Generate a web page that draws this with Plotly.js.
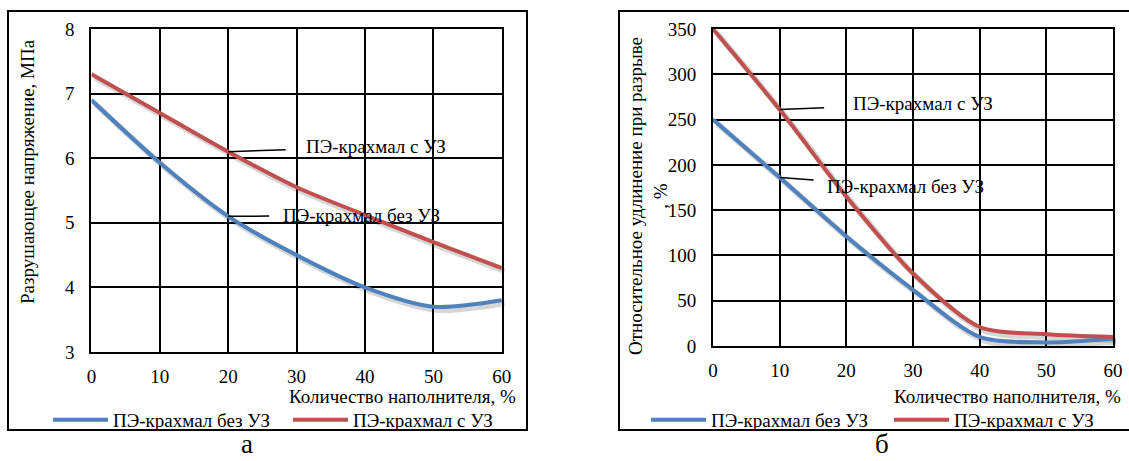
<!DOCTYPE html>
<html>
<head>
<meta charset="utf-8">
<script src="https://cdn.plot.ly/plotly-3.0.1.min.js"></script>
<style>html,body{margin:0;padding:0;background:#fff;overflow:hidden;}#chart{width:1129px;height:461px;}</style>
</head>
<body>
<div id="chart"></div>
<script>
// ---- data ----
const fillerPct = [0, 10, 20, 30, 40, 50, 60];
const stressNoUS = [6.9, 5.93, 5.1, 4.5, 4.0, 3.7, 3.8];
const stressUS = [7.3, 6.7, 6.1, 5.55, 5.12, 4.7, 4.3];
const elongNoUS = [250, 186, 121, 62, 10, 4, 8];
const elongUS = [350, 261, 165, 80, 21, 13, 10];
const seriesNames = ["ПЭ-крахмал без УЗ", "ПЭ-крахмал с УЗ"];
const xTitle = "Количество наполнителя, %";
const yTitleA = "Разрушающее напряжение, МПа";
const yTitleB = "Относительное удлинение при разрыве<br>, %";
const panelLabels = ["а", "б"];

const W = 1129, H = 461;
const px = v => v / W;
const py = v => 1 - v / H;
const FONT = "Liberation Serif, serif";
const FS = 19;
const BLUE = "#4F81BD", RED = "#C0504D", SHADOW = "rgba(0,0,0,0.16)";

// plot-area geometry (pixels)
const A = {l: 91.4, r: 501.8, t: 29, b: 352};
const B = {l: 713, r: 1113, t: 29, b: 346};
const SH = 3; // shadow offset

function tr(x, y, name, xa, ya, leg, color) {
  return {x: x, y: y, name: name, xaxis: xa, yaxis: ya, legend: leg, mode: "lines",
          line: {color: color, width: 4, shape: "spline", smoothing: 0.8}};
}
function shadow(x, y, xa, ya) {
  return {x: x, y: y, xaxis: xa, yaxis: ya, mode: "lines", showlegend: false, hoverinfo: "skip",
          line: {color: SHADOW, width: 6, shape: "spline", smoothing: 0.8}};
}
const traces = [
  shadow(fillerPct, stressNoUS, "x3", "y3"),
  shadow(fillerPct, stressUS, "x3", "y3"),
  shadow(fillerPct, elongNoUS, "x4", "y4"),
  shadow(fillerPct, elongUS, "x4", "y4"),
  tr(fillerPct, stressNoUS, seriesNames[0], "x5", "y5", "legend", BLUE),
  tr(fillerPct, stressUS, seriesNames[1], "x5", "y5", "legend2", RED),
  tr(fillerPct, elongNoUS, seriesNames[0], "x6", "y6", "legend3", BLUE),
  tr(fillerPct, elongUS, seriesNames[1], "x6", "y6", "legend4", RED)
];

const axBase = {
  showgrid: true, gridcolor: "#000", gridwidth: 2,
  showline: true, linecolor: "#000", linewidth: 2, mirror: true,
  zeroline: false, ticks: "", tickfont: {family: FONT, size: FS, color: "#000"}
};
const hid = {visible: false, showgrid: false, zeroline: false, fixedrange: true};

function leg(xpx) {
  return {orientation: "h", bgcolor: "rgba(0,0,0,0)", font: {family: FONT, size: FS, color: "#000"},
          xanchor: "left", yanchor: "middle", x: px(xpx), y: py(420), itemwidth: 55};
}

function callout(xa, ya, x, y, ax, ay, text, pad) {
  return {xref: xa, yref: ya, x: x, y: y, ax: ax, ay: ay, text: text,
          showarrow: true, arrowhead: 0, arrowwidth: 1.5, arrowcolor: "#000", borderpad: pad,
          font: {family: FONT, size: FS, color: "#000"}};
}

const layout = {
  width: W, height: H, autosize: false,
  margin: {l: 0, r: 0, t: 0, b: 0, autoexpand: false},
  paper_bgcolor: "#fff", plot_bgcolor: "rgba(0,0,0,0)",
  font: {family: FONT, size: FS, color: "#000"},
  showlegend: true,
  // visible axes with grid
  xaxis: Object.assign({}, axBase, {domain: [px(A.l), px(A.r)], range: [0, 60], dtick: 10, anchor: "y", ticklabelstandoff: 6}),
  yaxis: Object.assign({}, axBase, {domain: [py(A.b), py(A.t)], range: [3, 8], dtick: 1, anchor: "x", ticklabelstandoff: 11}),
  xaxis2: Object.assign({}, axBase, {domain: [px(B.l), px(B.r)], range: [0, 60], dtick: 10, anchor: "y2", ticklabelstandoff: 6}),
  yaxis2: Object.assign({}, axBase, {domain: [py(B.b), py(B.t)], range: [0, 350], dtick: 50, anchor: "x2", ticklabelstandoff: 11}),
  // shadow axes (offset a few pixels right/down)
  xaxis3: Object.assign({}, hid, {domain: [px(A.l + SH), px(A.r + SH)], range: [0, 60], anchor: "y3"}),
  yaxis3: Object.assign({}, hid, {domain: [py(A.b + SH), py(A.t + SH)], range: [3, 8], anchor: "x3"}),
  xaxis4: Object.assign({}, hid, {domain: [px(B.l + SH), px(B.r + SH)], range: [0, 60], anchor: "y4"}),
  yaxis4: Object.assign({}, hid, {domain: [py(B.b + SH), py(B.t + SH)], range: [0, 350], anchor: "x4"}),
  // line axes (same as visible ones)
  xaxis5: Object.assign({}, hid, {domain: [px(A.l), px(A.r)], range: [0, 60], anchor: "y5"}),
  yaxis5: Object.assign({}, hid, {domain: [py(A.b), py(A.t)], range: [3, 8], anchor: "x5"}),
  xaxis6: Object.assign({}, hid, {domain: [px(B.l), px(B.r)], range: [0, 60], anchor: "y6"}),
  yaxis6: Object.assign({}, hid, {domain: [py(B.b), py(B.t)], range: [0, 350], anchor: "x6"}),
  legend: leg(48),
  legend2: leg(288),
  legend3: leg(646),
  legend4: leg(889),
  shapes: [
    {type: "rect", xref: "paper", yref: "paper", x0: px(8), x1: px(527), y0: py(430), y1: py(11),
     line: {color: "#000", width: 2}, layer: "below"},
    {type: "rect", xref: "paper", yref: "paper", x0: px(619), x1: px(1140), y0: py(430), y1: py(11),
     line: {color: "#000", width: 2}, layer: "below"}
  ],
  annotations: [
    {xref: "paper", yref: "paper", x: px(518), y: py(396), xanchor: "right", yanchor: "middle",
     text: xTitle, showarrow: false, font: {family: FONT, size: FS, color: "#000"}},
    {xref: "paper", yref: "paper", x: px(1123), y: py(396), xanchor: "right", yanchor: "middle",
     text: xTitle, showarrow: false, font: {family: FONT, size: FS, color: "#000"}},
    {xref: "paper", yref: "paper", x: px(27), y: py(172), xanchor: "center", yanchor: "middle",
     text: yTitleA, textangle: -90, showarrow: false, font: {family: FONT, size: FS, color: "#000"}},
    {xref: "paper", yref: "paper", x: px(648), y: py(196), xanchor: "center", yanchor: "middle",
     text: yTitleB, textangle: -90, showarrow: false, font: {family: FONT, size: FS, color: "#000"}},
    {xref: "paper", yref: "paper", x: px(247), y: 0, xanchor: "center", yanchor: "bottom",
     text: panelLabels[0], showarrow: false, font: {family: FONT, size: 27, color: "#000"}},
    {xref: "paper", yref: "paper", x: px(882), y: 0, xanchor: "center", yanchor: "bottom",
     text: panelLabels[1], showarrow: false, font: {family: FONT, size: 27, color: "#000"}},
    callout("x", "y", fillerPct[2], stressUS[2], 148, -5, seriesNames[1], 20),
    callout("x", "y", fillerPct[2], stressNoUS[2], 133, -1, seriesNames[0], 13),
    callout("x2", "y2", fillerPct[1], elongUS[1], 143, -6, seriesNames[1], 28),
    callout("x2", "y2", fillerPct[1], elongNoUS[1], 126, 9, seriesNames[0], 13)
  ]
};

Plotly.newPlot("chart", traces, layout, {displayModeBar: false, staticPlot: true});
</script>
</body>
</html>
